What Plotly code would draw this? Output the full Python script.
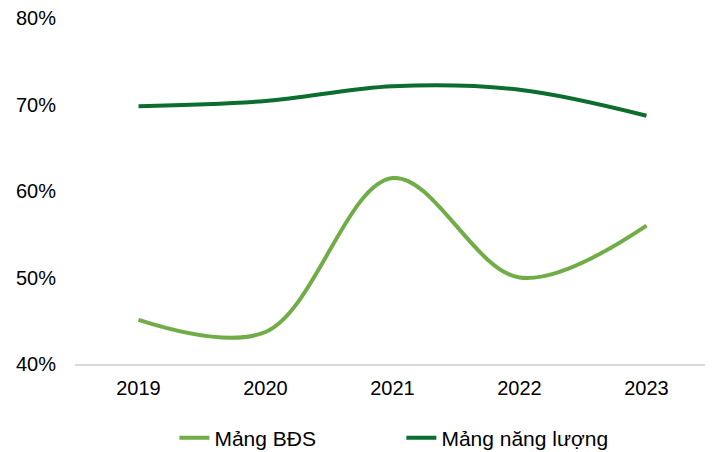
import plotly.graph_objects as go

years = ["2019", "2020", "2021", "2022", "2023"]
bds = [45.1, 43.7, 61.5, 50.0, 56.0]
nang_luong = [69.8, 70.4, 72.1, 71.7, 68.7]
y_ticks = [40, 50, 60, 70, 80]
y_tick_labels = ["40%", "50%", "60%", "70%", "80%"]

fig = go.Figure()
fig.add_trace(go.Scatter(x=years, y=bds, name="Mảng BĐS", mode="lines",
                         line=dict(color="#70AD47", width=4, shape="spline", smoothing=1)))
fig.add_trace(go.Scatter(x=years, y=nang_luong, name="Mảng năng lượng", mode="lines",
                         line=dict(color="#0B6E2E", width=4, shape="spline", smoothing=1)))

fig.update_layout(
    width=705, height=452,
    margin=dict(l=67, r=3, t=10, b=96, autoexpand=False),
    paper_bgcolor="white", plot_bgcolor="white",
    font=dict(family="Liberation Sans, Arial, sans-serif", size=20, color="#000000"),
    xaxis=dict(type="category", range=[-0.5, 4.5], showgrid=False, showline=True,
               linecolor="#D9D9D9", linewidth=1.5, ticks="", ticklabelstandoff=5),
    yaxis=dict(range=[40, 80], tickmode="array", tickvals=y_ticks, ticktext=y_tick_labels,
               showgrid=False, zeroline=False, showline=False, ticks="", ticklabelstandoff=18,
               ticklabeloverflow="allow"),
    legend=dict(orientation="h", x=0.514, xanchor="center", y=-0.214, yanchor="middle",
                font=dict(size=21), itemwidth=30, entrywidth=182),
)
fig.write_html("out.html")
